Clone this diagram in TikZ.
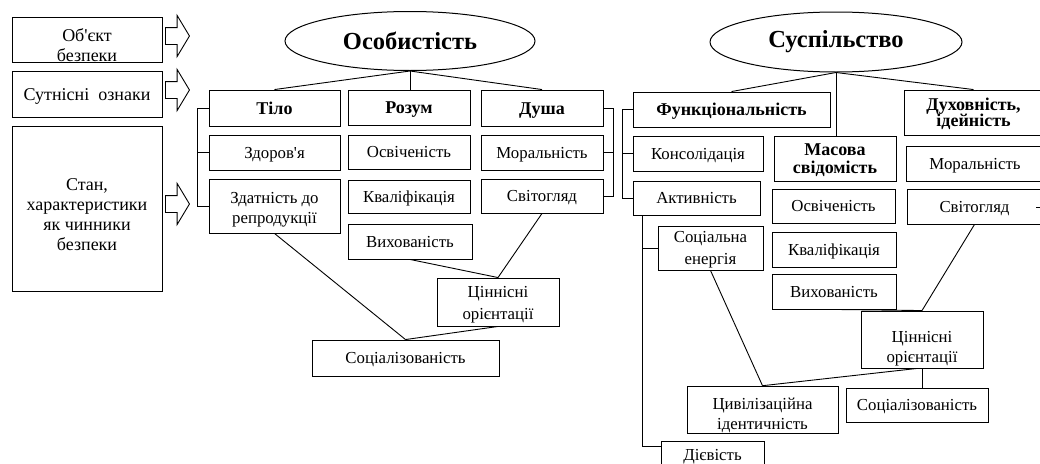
\documentclass[tikz,border=0pt]{standalone}
\usepackage{fontspec}
\setmainfont{Liberation Serif}
\usetikzlibrary{shapes.geometric,shapes.arrows,calc}
\tikzset{
  box/.style={draw, line width=0.9pt, inner sep=1pt, align=center, font=\fontsize{16.8}{20}\selectfont},
  hbox/.style={box, font=\fontsize{18}{18}\selectfont\bfseries},
  lbox/.style={box, font=\fontsize{18}{20}\selectfont},
  ltext/.style={align=center, inner sep=0pt, font=\fontsize{18}{20}\selectfont},
  oval/.style={draw, ellipse, line width=1pt, inner sep=0pt, font=\fontsize{24.5}{28}\selectfont\bfseries},
  con/.style={line width=0.9pt},
  barrow/.style={draw, single arrow, line width=0.9pt, inner xsep=0pt, inner ysep=8pt,
    minimum height=24pt, single arrow head extend=12pt, single arrow tip angle=118, anchor=tail}
}
\newcommand\bx[7][box]{\node[#1, minimum width={(#5-#3)*1pt}, minimum height={(#6-#4)*1pt}] (#2) at ({(#3+#5)/2},{(#4+#6)/2}) {\rule{0pt}{0.89em}#7\rule[-0.22em]{0pt}{0pt}};}
\newcommand\sh[1]{\rule{0pt}{#1pt}}
\begin{document}
\begin{tikzpicture}[x=1pt,y=-1pt]
\useasboundingbox (0,0) rectangle (1040,463);
\clip (0,0) rectangle (1040,463);
% left legend
\bx[lbox]{ob}{12}{17}{162}{62}{}
\node[ltext] (obt) at ([yshift=-6pt]ob.center) {Об\textquotesingle єкт\\безпеки};
\bx[lbox]{sut}{12}{71}{162}{117}{Сутнісні\ \ ознаки}
\bx[lbox]{stan}{12}{126}{162}{291}{\sh{28}Стан,\\характеристики\\як чинники\\безпеки}
\node[barrow] (a1) at (165,36) {};
\node[barrow] (a2) at (165,90) {};
\node[barrow] (a3) at (165,204) {};
% Особистість
\node[oval, minimum width=250pt, minimum height=59pt] (ellL) at (410,41) {Особистість};
\bx[hbox]{til}{209}{90}{340}{126}{Тіло}
\bx{zdor}{209}{135}{340}{170}{Здоров\textquotesingle я}
\bx{zdat}{209}{179}{340}{233}{\sh{18}Здатність до\\репродукції}
\bx[hbox]{roz}{348}{90}{470}{125}{Розум}
\bx{osv}{348}{135}{470}{169}{Освіченість}
\bx{kval}{348}{180}{470}{213}{Кваліфікація}
\bx{vyh}{348}{224}{472}{259}{Вихованість}
\bx[hbox]{dush}{481}{90}{603}{126}{Душа}
\bx{mor}{481}{135}{603}{170}{Моральність}
\bx{svit}{481}{179}{603}{213}{Світогляд}
\bx{cin}{437}{278}{559}{326}{\sh{17}Ціннісні\\[1.5pt]орієнтації}
\bx{soc}{312}{340}{499}{376}{Соціалізованість}
% Суспільство
\node[oval, minimum width=252pt, minimum height=60pt] (ellR) at (836,42) {Суспільство};
\bx[hbox]{fun}{633}{92}{830}{127}{Функціональність}
\bx{kons}{633}{136}{763}{171}{Консолідація}
\bx{akt}{633}{181}{760}{215}{Активність}
\bx[hbox]{mas}{774}{136}{896}{181}{Масова\\свідомість}
\bx{osvR}{772}{189}{895}{223}{Освіченість}
\bx{kvalR}{772}{232}{896}{267}{Кваліфікація}
\bx{vyhR}{772}{274}{896}{309}{Вихованість}
\bx[hbox]{duh}{904}{90}{1043}{135}{Духовність,\\[-1.5pt]ідейність}
\bx{morR}{906}{146}{1044}{181}{Моральність}
\bx{svitR}{907}{189}{1042}{224}{Світогляд}
\bx{sen}{658}{226}{763}{270}{Соціальна\\[1.5pt]енергія}
\bx{cinR}{861}{311}{983}{368}{\sh{30}Ціннісні\\орієнтації}
\bx{civ}{687}{388}{838}{432}{\sh{22}Цивілізаційна\\ідентичність}
\bx{socR}{846}{388}{988}{422}{Соціалізованість}
\bx{diev}{661}{441}{764}{468}{Дієвість}
% connectors left
\draw[con] (ellL.south) -- (til.north);
\draw[con] (ellL.south) -- (ellL.south |- roz.north);
\draw[con] (ellL.south) -- (dush.north);
\draw[con] (til.west) -- ++(-11,0) |- (zdat.west);
\draw[con] (zdor.west) -- ++(-11,0);
\draw[con] (dush.east) -- ++(10,0) |- (svit.east);
\draw[con] (mor.east) -- ++(10,0);
\draw[con] (zdat.south) -- (soc.north);
\draw[con] (vyh.south) -- (cin.north);
\draw[con] (svit.south) -- (cin.north);
\draw[con] (cin.south) -- (soc.north);
% connectors right
\draw[con] (ellR.south) -- (fun.north);
\draw[con] (ellR.south) -- (ellR.south |- mas.north);
\draw[con] (ellR.south) -- (duh.north);
\draw[con] (fun.west) -- ++(-10,0) |- (akt.west);
\draw[con] (kons.west) -- ++(-10,0);
\coordinate (aktd) at ($(akt.south west)+(10,0)$);
\coordinate (dievt) at ($(diev.north west)+(0,6)$);
\draw[con] (aktd) |- (dievt);
\draw[con] (sen.west) -- (sen.west -| aktd);
\draw[con] (sen.south) -- (civ.north);
\draw[con] (civ.north) -- ([xshift=-5pt]cinR.south);
\draw[con] (cinR.south) -- (cinR.south |- socR.north);
\draw[con] (vyhR.south) -- (cinR.north);
\draw[con] (svitR.south) -- (cinR.north);
\coordinate (tk) at (1036,207);
\draw[con] (tk) -- ++(5,0);
\end{tikzpicture}
\end{document}
